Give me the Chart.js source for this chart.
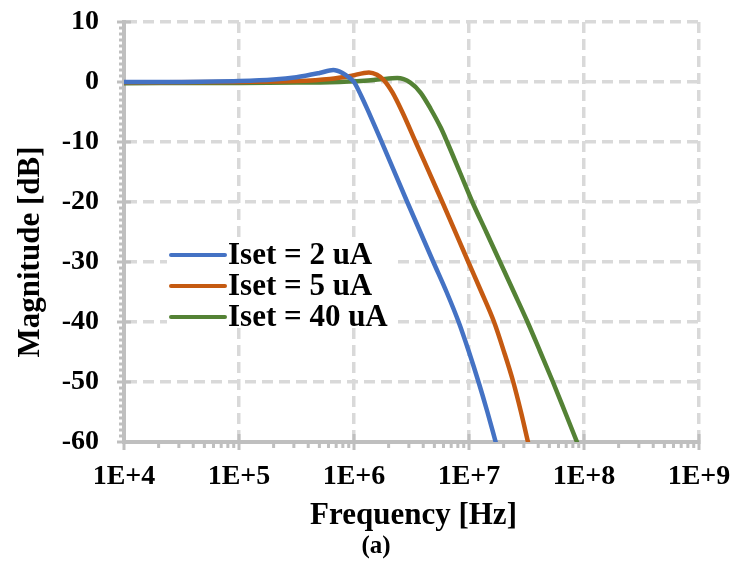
<!DOCTYPE html>
<html>
 <head>
  <meta charset="utf-8" />
  <title></title>
  <style>
   body { margin: 0; background: #fff; }
  </style>
 </head>
 <body>
    <canvas id="bodeChart" width="732" height="576"></canvas>

    <script src="https://cdn.jsdelivr.net/npm/chart.js@4.4.1/dist/chart.umd.min.js"></script>
  <script>

//////////data (frequency as log10 of Hz, magnitude in dB)
const seriesLabels = ['Iset = 2 uA', 'Iset = 5 uA', 'Iset = 40 uA'];
const seriesColors = ['#4472C4', '#C55A11', '#548235'];

const logF2uA  = [4.0, 4.5, 5.0, 5.3, 5.5, 5.7, 5.82, 5.9, 5.96, 6.0, 6.06, 6.12, 6.18, 6.245, 6.463, 6.69, 6.805, 6.91, 7.0, 7.083, 7.16, 7.232];
const mag2uA   = [0, 0.02, 0.15, 0.4, 0.8, 1.5, 2.0, 1.5, 0.7, 0, -2.2, -4.7, -7.3, -10.2, -20, -30, -35, -40, -45, -50, -55, -60];

const logF5uA  = [4.0, 5.0, 5.5, 5.79, 5.97, 6.13, 6.2, 6.26, 6.333, 6.42, 6.536, 6.768, 6.994, 7.108, 7.218, 7.305, 7.385, 7.452, 7.513];
const mag5uA   = [-0.05, 0.02, 0.15, 0.5, 1.0, 1.6, 1.2, 0.3, -1.7, -5, -10, -20, -30, -35, -40, -45, -50, -55, -60];

const logF40uA = [4.0, 5.0, 5.5, 5.79, 6.09, 6.23, 6.376, 6.49, 6.58, 6.667, 6.754, 6.81, 6.92, 7.029, 7.15, 7.27, 7.39, 7.509, 7.62, 7.73, 7.835, 7.939];
const mag40uA  = [-0.2, -0.15, -0.1, -0.05, 0.2, 0.45, 0.65, -0.1, -1.8, -4.5, -7.6, -10, -15, -20, -25, -30, -35, -40, -45, -50, -55, -60];

const xDecades = [4, 5, 6, 7, 8, 9];
const yTicks = [10, 0, -10, -20, -30, -40, -50, -60];

const xTitle = 'Frequency [Hz]';
const yTitle = 'Magnitude [dB]';
const caption = '(a)';

const FONT = "'Liberation Serif', 'Times New Roman', serif";
const AXIS_GRAY = '#bfbfbf';

function toPoints(logF, mag) {
    return logF.map((l, i) => ({ x: Math.pow(10, l), y: mag[i] }));
}

/////////axis ticks, legend, titles
const extras = {
    id: 'extras',
    beforeDatasetsDraw(chart) {
        const ctx = chart.ctx;
        const xs = chart.scales.x, ys = chart.scales.y;
        const a = chart.chartArea;
        ctx.save();
        ctx.strokeStyle = AXIS_GRAY;
        ctx.lineWidth = 3;
        ctx.beginPath();
        // x minor + major ticks
        for (let d = xDecades[0]; d <= xDecades[xDecades.length - 1]; d++) {
            const px = xs.getPixelForValue(Math.pow(10, d));
            ctx.moveTo(px, a.bottom - 8); ctx.lineTo(px, a.bottom + 8);
            if (d === xDecades[xDecades.length - 1]) break;
            for (let m = 2; m <= 9; m++) {
                const mx = xs.getPixelForValue(m * Math.pow(10, d));
                ctx.moveTo(mx, a.bottom); ctx.lineTo(mx, a.bottom + 6);
            }
        }
        // y minor + major ticks
        for (let v = -60; v <= 10; v++) {
            const py = ys.getPixelForValue(v);
            if (v % 10 === 0) { ctx.moveTo(a.left - 7, py); ctx.lineTo(a.left + 7, py); }
            else { ctx.moveTo(a.left - 5, py); ctx.lineTo(a.left, py); }
        }
        ctx.stroke();
        ctx.restore();
    },
    afterDatasetsDraw(chart) {
        const ctx = chart.ctx;
        const a = chart.chartArea;
        ctx.save();
        // legend
        ctx.fillStyle = '#fff';
        ctx.fillRect(167, 240, 226, 84);
        ctx.font = 'bold 31px ' + FONT;
        ctx.textBaseline = 'middle';
        ctx.textAlign = 'left';
        chart.data.datasets.forEach((ds, i) => {
            const y = 255 + i * 31;
            ctx.strokeStyle = ds.borderColor;
            ctx.lineWidth = 4;
            ctx.lineCap = 'round';
            ctx.beginPath();
            ctx.moveTo(171, y); ctx.lineTo(225, y);
            ctx.stroke();
            ctx.fillStyle = '#000';
            ctx.fillText(ds.label, 228, y + 1);
        });
        // axis titles
        ctx.fillStyle = '#000';
        ctx.textAlign = 'center';
        ctx.fillText(xTitle, (a.left + a.right) / 2 + 2, 516);
        ctx.save();
        ctx.translate(31, (a.top + a.bottom) / 2 + 20);
        ctx.rotate(-Math.PI / 2);
        ctx.fillText(yTitle, 0, 0);
        ctx.restore();
        ctx.font = 'bold 25px ' + FONT;
        ctx.fillText(caption, 376, 547);
        ctx.restore();
    }
};

/////////chart
const bodeCanvas = document.getElementById('bodeChart');
const bodeChart = new Chart(bodeCanvas, {
    type: 'line',
    data: {
        datasets: [
            { label: seriesLabels[0], data: toPoints(logF2uA, mag2uA), borderColor: seriesColors[0] },
            { label: seriesLabels[1], data: toPoints(logF5uA, mag5uA), borderColor: seriesColors[1] },
            { label: seriesLabels[2], data: toPoints(logF40uA, mag40uA), borderColor: seriesColors[2] }
        ]
    },
    options: {
        responsive: false,
        animation: false,
        layout: { padding: { left: 0, right: 33, top: 22, bottom: 0 } },
        elements: {
            point: { radius: 0 },
            line: { borderWidth: 4.5, cubicInterpolationMode: 'monotone', fill: false, borderCapStyle: 'round' }
        },
        plugins: {
            legend: { display: false },
            tooltip: { enabled: false }
        },
        scales: {
            x: {
                type: 'logarithmic',
                min: Math.pow(10, xDecades[0]),
                max: Math.pow(10, xDecades[xDecades.length - 1]),
                afterBuildTicks: s => { s.ticks = xDecades.map(d => ({ value: Math.pow(10, d) })); },
                afterFit: s => { s.height = 134; s.paddingLeft = 0; s.paddingRight = 0; },
                grid: { color: '#d9d9d9', lineWidth: 3.5, drawTicks: false },
                border: { color: AXIS_GRAY, width: 4, dash: [11, 6] },
                ticks: {
                    color: '#000',
                    padding: 18,
                    maxRotation: 0,
                    font: { family: FONT, size: 28, weight: 'bold' },
                    callback: v => '1E+' + Math.round(Math.log10(v))
                }
            },
            y: {
                min: yTicks[yTicks.length - 1],
                max: yTicks[0],
                afterBuildTicks: s => { s.ticks = yTicks.map(v => ({ value: v })); },
                afterFit: s => { s.width = 124; s.paddingTop = 0; s.paddingBottom = 0; },
                grid: { color: '#d9d9d9', lineWidth: 3.5, drawTicks: false },
                border: { color: AXIS_GRAY, width: 4, dash: [11, 6] },
                ticks: {
                    color: '#000',
                    padding: 25,
                    font: { family: FONT, size: 28, weight: 'bold' }
                }
            }
        }
    },
    plugins: [extras]
});

  </script>

</body>
</html>
